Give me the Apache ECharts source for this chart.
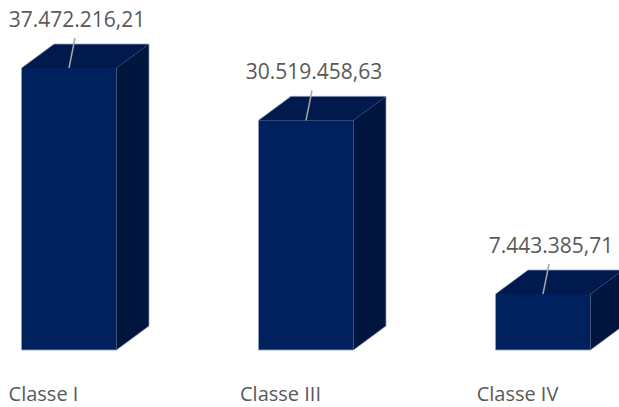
<!DOCTYPE html>
<html>
<head>
<meta charset="utf-8">
<script src="https://cdn.jsdelivr.net/npm/echarts@6/dist/echarts.min.js"></script>
<style>
  html, body { margin: 0; padding: 0; background: #ffffff; overflow: hidden; }
  body { position: relative; width: 619px; height: 407px; }
  /* the plot spans slightly beyond the visible page on both sides */
  #chart { position: absolute; left: -75px; top: 0; width: 711px; height: 407px; }
</style>
</head>
<body>
<div id="chart"></div>
<script>
// Chart data
const categories = ['Classe I', 'Classe III', 'Classe IV'];
const values = [37472216.21, 30519458.63, 7443385.71];

// Value formatting: thousands with '.', decimals with ','
function formatValue(v) {
  const parts = v.toFixed(2).split('.');
  const intPart = parts[0].replace(/\B(?=(\d{3})+(?!\d))/g, '.');
  return intPart + ',' + parts[1];
}

// Box drawing style
const FRONT_W = 95;     // width of the front face
const DEPTH_X = 32.5;   // horizontal depth offset
const DEPTH_Y = 24;     // vertical depth offset
const SHIFT = 25.5;     // box offset from category centre
const COL_FRONT = '#01205e';
const COL_TOP = '#011a4e';
const COL_SIDE = '#01163f';
const EDGE = 'rgba(150,160,195,0.75)';
const TEXT = '#595959';

function renderItem(params, api) {
  const base = api.coord([api.value(0), 0]);
  const top = api.coord([api.value(0), api.value(1)]);
  const cx = base[0] + SHIFT;
  const x0 = cx - FRONT_W / 2;
  const x1 = cx + FRONT_W / 2;
  const yb = base[1];
  const yt = top[1];
  const label = formatValue(api.value(1));
  return {
    type: 'group',
    children: [
      { type: 'polygon', shape: { points: [[x0, yt], [x1, yt], [x1, yb], [x0, yb]] },
        style: { fill: COL_FRONT } },
      { type: 'polygon', shape: { points: [[x1, yt], [x1 + DEPTH_X, yt - DEPTH_Y], [x1 + DEPTH_X, yb - DEPTH_Y], [x1, yb]] },
        style: { fill: COL_SIDE } },
      { type: 'polygon', shape: { points: [[x0, yt], [x0 + DEPTH_X, yt - DEPTH_Y], [x1 + DEPTH_X, yt - DEPTH_Y], [x1, yt]] },
        style: { fill: COL_TOP } },
      { type: 'polyline', shape: { points: [[x0, yb], [x0, yt], [x0 + DEPTH_X, yt - DEPTH_Y], [x1 + DEPTH_X, yt - DEPTH_Y], [x1 + DEPTH_X, yb - DEPTH_Y], [x1, yb], [x0, yb]] },
        style: { stroke: EDGE, lineWidth: 1, fill: null } },
      { type: 'line', shape: { x1: cx + 6, y1: yt - 30, x2: cx, y2: yt },
        style: { stroke: '#a6a6a6', lineWidth: 1.5 } },
      { type: 'text', x: cx + 8, y: yt - 49,
        style: { text: label, fill: TEXT, fontSize: 21, fontFamily: 'Open Sans',
                 align: 'center', verticalAlign: 'middle' } }
    ]
  };
}

const chart = echarts.init(document.getElementById('chart'), null, { renderer: 'svg' });
chart.setOption({
  animation: false,
  backgroundColor: '#ffffff',
  grid: { left: 0, right: 0, top: 49, bottom: 57 },
  xAxis: {
    type: 'category',
    data: categories,
    axisLine: { show: false },
    axisTick: { show: false },
    axisLabel: { color: TEXT, fontSize: 20, fontFamily: 'Open Sans', margin: 35, lineHeight: 16 }
  },
  yAxis: {
    type: 'value',
    min: 0,
    max: 40000000,
    show: false,
    splitLine: { show: false }
  },
  series: [{
    type: 'custom',
    renderItem: renderItem,
    clip: false,
    data: categories.map((c, i) => [i, values[i]])
  }]
});
</script>
</body>
</html>
